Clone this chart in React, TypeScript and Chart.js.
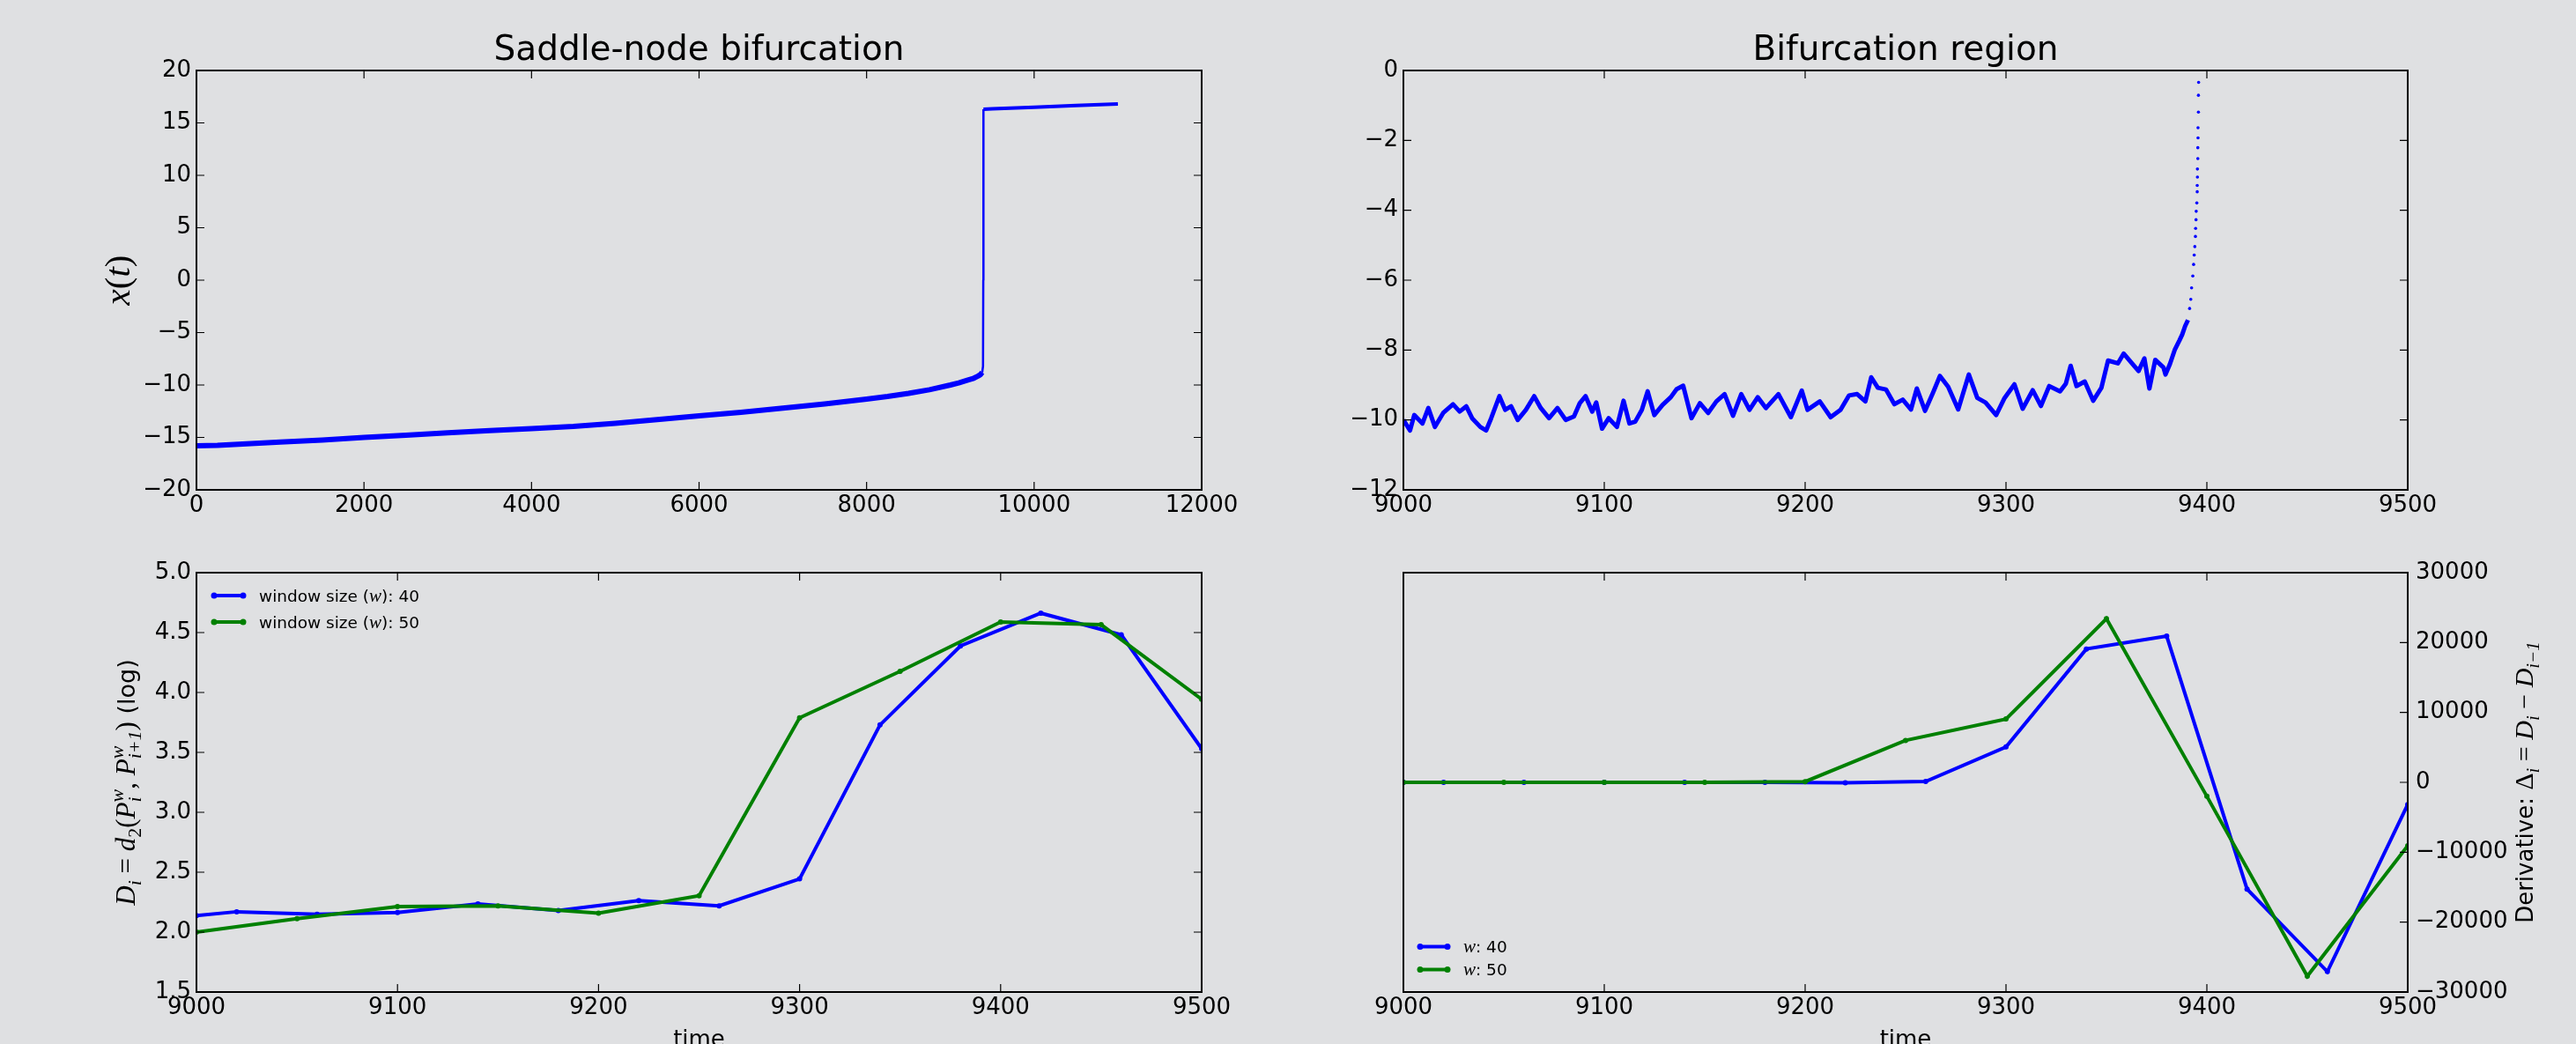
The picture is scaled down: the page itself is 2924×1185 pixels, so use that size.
import React, { useEffect, useRef } from 'react';
import { Chart, registerables } from 'chart.js';

Chart.register(...registerables);

const BG = '#dfe0e2';
const BLUE = '#0000ff';
const GREEN = '#008000';
const SANS = '"DejaVu Sans", sans-serif';
const SERIF = '"Liberation Serif", "DejaVu Serif", serif';

// ---------------- data ----------------
// Top-left: full trajectory x(t)
const TRAJ_T = [0, 250, 500, 750, 1000, 1500, 2000, 2500, 3000, 3500, 4000, 4500, 5000, 5500, 6000, 6500, 7000, 7500, 8000, 8250, 8500, 8750, 9000, 9100, 9200, 9280, 9330, 9360, 9380, 9390, 9393, 9395, 9500, 10000, 10500, 11000];
const TRAJ_X = [-15.8, -15.75, -15.65, -15.55, -15.45, -15.25, -15.0, -14.8, -14.55, -14.35, -14.15, -13.95, -13.65, -13.3, -12.95, -12.6, -12.2, -11.8, -11.35, -11.1, -10.8, -10.45, -10.0, -9.8, -9.55, -9.35, -9.15, -9.0, -8.8, -8.2, 0, 16.3, 16.35, 16.5, 16.65, 16.8];

// Top-right: bifurcation region (dense part)
const REGION_T = [9000.0, 9003.3, 9005.4, 9009.5, 9012.4, 9015.7, 9019.8, 9024.7, 9028.0, 9031.3, 9034.2, 9038.3, 9041.2, 9043.7, 9047.8, 9050.7, 9053.6, 9056.9, 9061.0, 9065.1, 9068.4, 9072.5, 9076.7, 9080.8, 9084.9, 9087.8, 9090.7, 9094.0, 9096.0, 9098.9, 9102.2, 9106.3, 9109.6, 9112.5, 9115.4, 9118.7, 9121.6, 9124.9, 9129.0, 9133.1, 9136.0, 9139.3, 9143.4, 9147.6, 9151.7, 9155.8, 9159.9, 9164.1, 9168.2, 9172.3, 9176.4, 9180.5, 9186.7, 9192.9, 9198.3, 9201.2, 9207.3, 9212.7, 9217.6, 9221.8, 9225.9, 9230.0, 9232.9, 9236.2, 9240.3, 9244.4, 9248.6, 9252.7, 9255.6, 9259.7, 9263.8, 9267.1, 9271.2, 9276.2, 9281.5, 9285.7, 9289.8, 9295.1, 9299.3, 9304.2, 9308.3, 9313.3, 9317.4, 9321.5, 9326.9, 9329.8, 9332.2, 9335.1, 9339.2, 9343.4, 9347.5, 9350.8, 9355.7, 9358.6, 9362.7, 9366.0, 9368.9, 9371.4, 9374.3, 9378.4, 9379.4, 9381.6, 9384.1, 9386.3, 9387.7, 9389.2, 9390.6];
const REGION_X = [-10.0, -10.3, -9.86, -10.1, -9.66, -10.2, -9.8, -9.55, -9.76, -9.61, -9.95, -10.2, -10.3, -9.95, -9.32, -9.71, -9.61, -10.0, -9.71, -9.32, -9.66, -9.95, -9.66, -10.0, -9.9, -9.52, -9.32, -9.76, -9.5, -10.25, -9.95, -10.2, -9.45, -10.1, -10.05, -9.71, -9.18, -9.86, -9.57, -9.35, -9.12, -9.02, -9.95, -9.52, -9.8, -9.47, -9.26, -9.88, -9.26, -9.71, -9.35, -9.66, -9.26, -9.92, -9.16, -9.71, -9.47, -9.92, -9.71, -9.3, -9.26, -9.47, -8.78, -9.08, -9.13, -9.55, -9.42, -9.7, -9.1, -9.74, -9.2, -8.74, -9.05, -9.7, -8.7, -9.37, -9.5, -9.86, -9.37, -8.98, -9.68, -9.15, -9.6, -9.03, -9.18, -8.96, -8.45, -9.03, -8.9, -9.45, -9.08, -8.3, -8.38, -8.1, -8.38, -8.6, -8.24, -9.1, -8.28, -8.5, -8.7, -8.4, -7.98, -7.73, -7.56, -7.31, -7.14];

// Top-right: sparse escape points
const ESCAPE_T = [9391.4, 9392.0, 9392.4, 9393.0, 9393.4, 9393.7, 9394.0, 9394.3, 9394.4, 9394.6, 9394.7, 9395.0, 9395.2, 9395.2, 9395.3, 9395.3, 9395.5, 9395.5, 9395.6, 9395.6, 9395.8, 9395.8, 9395.9];
const ESCAPE_X = [-6.81, -6.55, -6.22, -5.88, -5.55, -5.28, -5.04, -4.75, -4.52, -4.27, -4.03, -3.79, -3.47, -3.29, -3.05, -2.82, -2.52, -2.21, -1.93, -1.64, -1.19, -0.71, -0.34];

// Bottom-left: distance D_i (log)
const W40_T = [9000, 9020, 9060, 9100, 9140, 9180, 9220, 9260, 9300, 9340, 9380, 9420, 9460, 9500];
const W40_D = [2.137, 2.17, 2.148, 2.164, 2.236, 2.181, 2.263, 2.219, 2.444, 3.729, 4.388, 4.662, 4.481, 3.531];
const W50_T = [9000, 9050, 9100, 9150, 9200, 9250, 9300, 9350, 9400, 9450, 9500];
const W50_D = [2.0, 2.112, 2.214, 2.219, 2.159, 2.304, 3.789, 4.176, 4.588, 4.566, 3.943];

// Bottom-right: derivative
const W40_DERIV = [0, 0, 0, 0, 0, 0, -50, 120, 5060, 19080, 20920, -15270, -27080, -3180];
const W50_DERIV = [0, 0, 0, 0, 100, 6000, 9060, 23410, -2000, -27740, -9060];

// Ticks
const TRAJ_TICKS_T = [0, 2000, 4000, 6000, 8000, 10000, 12000];
const TRAJ_TICKS_X = [-20, -15, -10, -5, 0, 5, 10, 15, 20];
const ZOOM_TICKS_T = [9000, 9100, 9200, 9300, 9400, 9500];
const REGION_TICKS_X = [-12, -10, -8, -6, -4, -2, 0];
const D_TICKS = [1.5, 2.0, 2.5, 3.0, 3.5, 4.0, 4.5, 5.0];
const DERIV_TICKS = [-30000, -20000, -10000, 0, 10000, 20000, 30000];

// Texts
const TITLE_TRAJ = 'Saddle-node bifurcation';
const TITLE_REGION = 'Bifurcation region';
const X_LABEL = 'time';
const WINDOWS = [40, 50];

// ---------------- helpers ----------------
const fmtInt = (v: number) => String(Math.round(v)).replace('-', '\u2212');
const fmt1 = (v: number) => v.toFixed(1);
const it = (s: number) => `italic ${s}px ${SERIF}`;
const rm = (s: number) => `${s}px ${SERIF}`;
const sans = (s: number) => `${s}px ${SANS}`;

type Part = { t: string; f: string; dy?: number; stack?: boolean };

function drawRich(ctx: CanvasRenderingContext2D, parts: Part[], x: number, y: number, rot: number, align: 'center' | 'left') {
  ctx.save();
  ctx.translate(x, y);
  ctx.rotate(rot);
  ctx.textAlign = 'left';
  ctx.textBaseline = 'alphabetic';
  ctx.fillStyle = '#000';
  const w = parts.map((p) => {
    ctx.font = p.f;
    return ctx.measureText(p.t).width;
  });
  const adv: number[] = [];
  let pend = 0;
  parts.forEach((p, i) => {
    if (p.stack) {
      pend = w[i];
      adv.push(0);
    } else {
      adv.push(Math.max(w[i], pend));
      pend = 0;
    }
  });
  const total = adv.reduce((a, b) => a + b, 0);
  let cx = align === 'center' ? -total / 2 : 0;
  parts.forEach((p, i) => {
    ctx.font = p.f;
    ctx.fillText(p.t, cx, p.dy || 0);
    cx += adv[i];
  });
  ctx.restore();
}

function legendRow(ctx: CanvasRenderingContext2D, x0: number, x1: number, y: number, color: string, parts: Part[], tx: number) {
  ctx.save();
  ctx.strokeStyle = color;
  ctx.fillStyle = color;
  ctx.lineWidth = 4;
  ctx.beginPath();
  ctx.moveTo(x0, y);
  ctx.lineTo(x1, y);
  ctx.stroke();
  [x0, x1].forEach((px) => {
    ctx.beginPath();
    ctx.arc(px, y, 3.5, 0, Math.PI * 2);
    ctx.fill();
  });
  ctx.restore();
  drawRich(ctx, parts, tx, y + 6.5, 0, 'left');
}

function decor(opts: { title?: string; ySides: string[]; extra?: (ctx: CanvasRenderingContext2D, a: any) => void }) {
  return {
    id: 'decor',
    afterDraw(chart: any) {
      const { ctx, chartArea: a, scales } = chart;
      ctx.save();
      ctx.strokeStyle = '#000';
      ctx.lineWidth = 1.2;
      const L = 9;
      ctx.beginPath();
      for (const t of scales.x.ticks) {
        const p = scales.x.getPixelForValue(t.value);
        ctx.moveTo(p, a.top);
        ctx.lineTo(p, a.top + L);
        ctx.moveTo(p, a.bottom);
        ctx.lineTo(p, a.bottom - L);
      }
      for (const t of scales.y.ticks) {
        const p = scales.y.getPixelForValue(t.value);
        if (opts.ySides.includes('left')) {
          ctx.moveTo(a.left, p);
          ctx.lineTo(a.left + L, p);
        }
        if (opts.ySides.includes('right')) {
          ctx.moveTo(a.right, p);
          ctx.lineTo(a.right - L, p);
        }
      }
      ctx.stroke();
      ctx.lineWidth = 2;
      ctx.strokeRect(a.left, a.top, a.right - a.left, a.bottom - a.top);
      if (opts.title) {
        ctx.fillStyle = '#000';
        ctx.font = `39px ${SANS}`;
        ctx.textAlign = 'center';
        ctx.textBaseline = 'alphabetic';
        ctx.fillText(opts.title, (a.left + a.right) / 2, a.top - 12);
      }
      if (opts.extra) opts.extra(ctx, a);
      ctx.restore();
    },
  };
}

function xScale(min: number, max: number, ticks: number[], h: number) {
  return {
    type: 'linear',
    position: 'bottom',
    min,
    max,
    afterBuildTicks: (s: any) => {
      s.ticks = ticks.map((v) => ({ value: v }));
    },
    afterFit: (s: any) => {
      s.height = h;
    },
    grid: { display: false, drawTicks: false },
    border: { display: false },
    ticks: {
      color: '#000',
      font: { family: SANS, size: 26 },
      padding: 3,
      maxRotation: 0,
      autoSkip: false,
      callback: (v: number) => fmtInt(v),
    },
  };
}

function yScale(position: string, min: number, max: number, ticks: number[], w: number, fmt: (v: number) => string, pad: number) {
  return {
    type: 'linear',
    position,
    min,
    max,
    afterBuildTicks: (s: any) => {
      s.ticks = ticks.map((v) => ({ value: v }));
    },
    afterFit: (s: any) => {
      s.width = w;
    },
    grid: { display: false, drawTicks: false },
    border: { display: false },
    ticks: {
      color: '#000',
      font: { family: SANS, size: 26 },
      padding: pad,
      autoSkip: false,
      callback: (v: number) => fmt(v),
    },
  };
}

function baseOptions(padding: any, xs: any, ys: any) {
  return {
    responsive: false,
    animation: false,
    devicePixelRatio: 1,
    events: [],
    layout: { padding },
    plugins: { legend: { display: false }, tooltip: { enabled: false }, title: { display: false } },
    scales: { x: xs, y: ys },
  };
}

const pts = (xs: number[], ys: number[]) => xs.map((x, i) => ({ x, y: ys[i] }));

// ---------------- chart builders ----------------
function buildTraj(): any {
  return {
    type: 'scatter',
    data: {
      datasets: [
        {
          data: pts(TRAJ_T, TRAJ_X),
          showLine: true,
          borderColor: BLUE,
          backgroundColor: BLUE,
          borderWidth: 6,
          pointRadius: 0,
          borderJoinStyle: 'round',
          segment: {
            borderWidth: (c: any) =>
              c.p0.parsed.x >= 9380 && c.p1.parsed.x <= 9395 ? 2.5 : c.p0.parsed.x >= 9395 ? 4 : 6,
          },
        },
      ],
    },
    options: baseOptions(
      { top: 80, right: 98, left: 0, bottom: 0 },
      xScale(0, 12000, TRAJ_TICKS_T, 64),
      yScale('left', -20, 20, TRAJ_TICKS_X, 223, fmtInt, 6)
    ),
    plugins: [
      decor({
        title: TITLE_TRAJ,
        ySides: ['left', 'right'],
        extra: (ctx, a) => {
          const s = 41;
          const parts: Part[] = [
            { t: 'x', f: it(s) },
            { t: '(', f: rm(s) },
            { t: 't', f: it(s) },
            { t: ')', f: rm(s) },
          ];
          drawRich(ctx, parts, a.left - 76, (a.top + a.bottom) / 2, -Math.PI / 2, 'center');
        },
      }),
    ],
  };
}

function buildRegion(): any {
  return {
    type: 'scatter',
    data: {
      datasets: [
        {
          data: pts(ESCAPE_T, ESCAPE_X),
          showLine: false,
          pointRadius: 1.8,
          pointBorderWidth: 0,
          backgroundColor: BLUE,
          borderColor: BLUE,
          order: 0,
        },
        {
          data: pts(REGION_T, REGION_X),
          showLine: true,
          borderColor: BLUE,
          backgroundColor: BLUE,
          borderWidth: 5,
          borderJoinStyle: 'round',
          pointRadius: 0,
          order: 1,
        },
      ],
    },
    options: baseOptions(
      { top: 80, right: 191, left: 0, bottom: 0 },
      xScale(9000, 9500, ZOOM_TICKS_T, 64),
      yScale('left', -12, 0, REGION_TICKS_X, 131, fmtInt, 6)
    ),
    plugins: [decor({ title: TITLE_REGION, ySides: ['left', 'right'] })],
  };
}

function lineDs(t: number[], v: number[], color: string, order: number) {
  return {
    data: pts(t, v),
    showLine: true,
    borderColor: color,
    backgroundColor: color,
    borderWidth: 4,
    pointRadius: 3,
    pointBorderWidth: 0,
    order,
  };
}

function buildDist(): any {
  return {
    type: 'scatter',
    data: {
      datasets: [lineDs(W50_T, W50_D, GREEN, 0), lineDs(W40_T, W40_D, BLUE, 1)],
    },
    options: baseOptions(
      { top: 30, right: 98, left: 0, bottom: 0 },
      xScale(9000, 9500, ZOOM_TICKS_T, 59),
      yScale('left', 1.5, 5.0, D_TICKS, 223, fmt1, 6)
    ),
    plugins: [
      decor({
        ySides: ['left', 'right'],
        extra: (ctx, a) => {
          const M = 31;
          const S = 22;
          const parts: Part[] = [
            { t: 'D', f: it(M) },
            { t: 'i', f: it(S), dy: 7 },
            { t: ' = ', f: rm(M) },
            { t: 'd', f: it(M) },
            { t: '2', f: rm(S), dy: 7 },
            { t: '(', f: rm(M) },
            { t: 'P', f: it(M) },
            { t: 'w', f: it(S), dy: -13, stack: true },
            { t: 'i', f: it(S), dy: 7 },
            { t: ', ', f: rm(M) },
            { t: 'P', f: it(M) },
            { t: 'w', f: it(S), dy: -13, stack: true },
            { t: 'i+1', f: it(S), dy: 7 },
            { t: ')', f: rm(M) },
            { t: ' (log)', f: sans(27) },
          ];
          drawRich(ctx, parts, a.left - 70, (a.top + a.bottom) / 2, -Math.PI / 2, 'center');
          ctx.fillStyle = '#000';
          ctx.font = sans(26);
          ctx.textAlign = 'center';
          ctx.textBaseline = 'alphabetic';
          ctx.fillText(X_LABEL, (a.left + a.right) / 2, a.bottom + 62);
          const colors = [BLUE, GREEN];
          WINDOWS.forEach((w, i) => {
            legendRow(
              ctx,
              a.left + 20,
              a.left + 53,
              a.top + 26 + i * 30,
              colors[i],
              [
                { t: 'window size (', f: sans(18.5) },
                { t: 'w', f: it(21) },
                { t: `): ${w}`, f: sans(18.5) },
              ],
              a.left + 71
            );
          });
        },
      }),
    ],
  };
}

function buildDeriv(): any {
  return {
    type: 'scatter',
    data: {
      datasets: [lineDs(W50_T, W50_DERIV, GREEN, 0), lineDs(W40_T, W40_DERIV, BLUE, 1)],
    },
    options: baseOptions(
      { top: 30, right: 0, left: 131, bottom: 0 },
      xScale(9000, 9500, ZOOM_TICKS_T, 59),
      yScale('right', -30000, 30000, DERIV_TICKS, 191, fmtInt, 9)
    ),
    plugins: [
      decor({
        ySides: ['right'],
        extra: (ctx, a) => {
          const M = 30;
          const S = 21;
          const parts: Part[] = [
            { t: 'Derivative: ', f: sans(26) },
            { t: '\u0394', f: rm(M) },
            { t: 'i', f: it(S), dy: 7 },
            { t: ' = ', f: rm(M) },
            { t: 'D', f: it(M) },
            { t: 'i', f: it(S), dy: 7 },
            { t: ' \u2212 ', f: rm(M) },
            { t: 'D', f: it(M) },
            { t: 'i\u22121', f: it(S), dy: 7 },
          ];
          drawRich(ctx, parts, a.right + 142, (a.top + a.bottom) / 2, -Math.PI / 2, 'center');
          ctx.fillStyle = '#000';
          ctx.font = sans(26);
          ctx.textAlign = 'center';
          ctx.textBaseline = 'alphabetic';
          ctx.fillText(X_LABEL, (a.left + a.right) / 2, a.bottom + 62);
          const colors = [BLUE, GREEN];
          WINDOWS.forEach((w, i) => {
            legendRow(
              ctx,
              a.left + 19,
              a.left + 50,
              a.bottom - 51.5 + i * 26,
              colors[i],
              [
                { t: 'w', f: it(21) },
                { t: `: ${w}`, f: sans(18.5) },
              ],
              a.left + 68
            );
          });
        },
      }),
    ],
  };
}

function Panel(props: { left: number; top: number; width: number; height: number; build: () => any }) {
  const ref = useRef<HTMLCanvasElement>(null);
  useEffect(() => {
    const chart = new Chart(ref.current as HTMLCanvasElement, props.build());
    return () => chart.destroy();
  }, []);
  return (
    <canvas
      ref={ref}
      width={props.width}
      height={props.height}
      style={{ position: 'absolute', left: props.left, top: props.top, width: props.width, height: props.height }}
    />
  );
}

export default function App() {
  return (
    <div style={{ position: 'absolute', left: 0, top: 0, width: 2924, height: 1185, background: BG, overflow: 'hidden' }}>
      <Panel left={0} top={0} width={1462} height={620} build={buildTraj} />
      <Panel left={1462} top={0} width={1462} height={620} build={buildRegion} />
      <Panel left={0} top={620} width={1462} height={565} build={buildDist} />
      <Panel left={1462} top={620} width={1462} height={565} build={buildDeriv} />
    </div>
  );
}
